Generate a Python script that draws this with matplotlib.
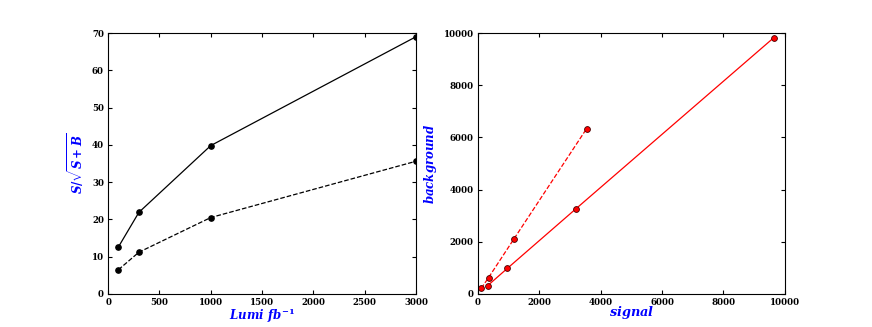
import numpy as np
import matplotlib
matplotlib.use("Agg")
import matplotlib.pyplot as plt

plt.rcParams['font.family'] = 'DejaVu Serif'
plt.rcParams['font.weight'] = 'bold'
plt.rcParams['mathtext.fontset'] = 'custom'
plt.rcParams['mathtext.rm'] = 'DejaVu Serif:bold'
plt.rcParams['mathtext.it'] = 'DejaVu Serif:italic:bold'
plt.rcParams['mathtext.bf'] = 'DejaVu Serif:bold'

# significance vs luminosity
lumi = [100, 300, 1000, 3000]
signif_solid = [12.6, 21.9, 39.8, 69.0]
signif_dashed = [6.5, 11.2, 20.5, 35.6]

# signal / background yields
sig_solid = [320, 960, 3200, 9640]
bkg_solid = [320, 980, 3270, 9820]
sig_dashed = [110, 350, 1170, 3540]
bkg_dashed = [215, 630, 2100, 6330]

fig = plt.figure(figsize=(8.72, 3.27), dpi=100)
ax1 = fig.add_axes([0.124, 0.101, 0.353, 0.798])
ax2 = fig.add_axes([0.548, 0.101, 0.352, 0.798])

ax1.plot(lumi, signif_solid, 'k-', marker='o', markersize=3.8, linewidth=0.9)
ax1.plot(lumi, signif_dashed, 'k--', marker='o', markersize=3.8, linewidth=0.9)
ax1.set_xlim(0, 3000)
ax1.set_ylim(0, 70)
ax1.set_xlabel(r'$Lumi\ fb^{-1}$', color='blue', fontsize=8.5, labelpad=-0.5)
ax1.set_ylabel(r'$S/\sqrt{S+B}$', color='blue', fontsize=8.5, labelpad=4)

ax2.plot(sig_solid, bkg_solid, 'r-', marker='o', markersize=4.2,
         markeredgecolor='#440000', markeredgewidth=0.6, linewidth=0.9)
ax2.plot(sig_dashed, bkg_dashed, 'r--', marker='o', markersize=4.2,
         markeredgecolor='#440000', markeredgewidth=0.6, linewidth=0.9)
ax2.set_xlim(0, 10000)
ax2.set_ylim(0, 10000)
ax2.set_xlabel(r'$signal$', color='blue', fontsize=9.3, labelpad=-2)
ax2.set_ylabel(r'$background$', color='blue', fontsize=8.5, labelpad=3)

for ax in (ax1, ax2):
    ax.tick_params(direction='in', top=True, right=True, labelsize=6.2,
                   length=3, pad=3)
    for lab in ax.get_xticklabels() + ax.get_yticklabels():
        lab.set_fontweight('bold')

fig.savefig('out.png', dpi=100)
